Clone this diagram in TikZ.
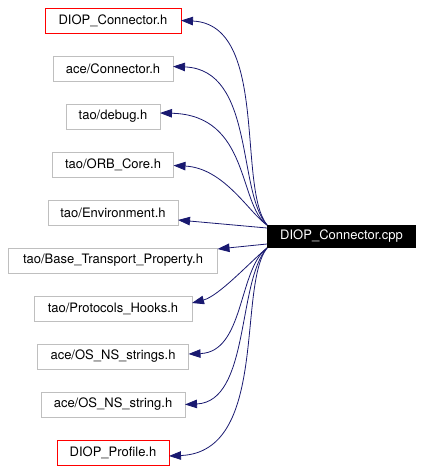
\documentclass[tikz,border=0pt]{standalone}
\usepackage{fontspec}
\setmainfont{TeX Gyre Heros}
\usetikzlibrary{arrows.meta,positioning}
\definecolor{EdgeNavy}{HTML}{191970}
\definecolor{BoxGray} {HTML}{BFBFBF}
\definecolor{BoxRed}  {HTML}{FF0000}

\begin{document}
\begin{tikzpicture}[x=1pt,y=1pt,
    hdr/.style={draw=BoxGray,line width=1pt,minimum height=25pt,inner sep=0pt,
                outer sep=0pt,font=\fontsize{13}{15}\selectfont},
    hdrown/.style={hdr,draw=BoxRed},
    srcfile/.style={fill=black,text=white,minimum height=23pt,minimum width=149pt,
                inner sep=0pt,outer sep=0pt,font=\fontsize{13}{15}\selectfont},
    dep/.style={draw=EdgeNavy,line width=0.8pt,-{Triangle[length=12pt,width=8.5pt]}},
    node distance=23pt]
  \useasboundingbox (0,0) rectangle (423,-471);

  % included headers
  \node[hdrown,minimum width=136pt] (dconn) at (113,-20.5) {DIOP\_Connector.h};
  \node[hdr,minimum width=120pt,below=of dconn] (aceconn) {ace/Connector.h};
  \node[hdr,minimum width=94pt,below=of aceconn] (debug) {tao/debug.h};
  \node[hdr,minimum width=121pt,below=of debug] (orbcore) {tao/ORB\_Core.h};
  \node[hdr,minimum width=130pt,below=of orbcore] (envir) {tao/Environment.h};
  \node[hdr,minimum width=209pt,below=of envir] (baseprop) {tao/Base\_Transport\_Property.h};
  \node[hdr,minimum width=158pt,below=of baseprop] (hooks) {tao/Protocols\_Hooks.h};
  \node[hdr,minimum width=151pt,below=of hooks] (strings) {ace/OS\_NS\_strings.h};
  \node[hdr,minimum width=144pt,below=of strings] (string) {ace/OS\_NS\_string.h};
  \node[hdrown,minimum width=112pt,below=of string] (dprof) {DIOP\_Profile.h};

  % the source file
  \node[srcfile] (cpp) at (341.5,-236.5) {DIOP\_Connector.cpp};

  % include edges
  \draw[dep] (cpp.north west) .. controls +(-30,38) and +(88,-4) .. (dconn.east);
  \draw[dep] (cpp.north west) .. controls +(-30,33) and +(82,-3) .. ([yshift=2pt]aceconn.east);
  \draw[dep] (cpp.north west) .. controls +(-29,21) and +(90,-2) .. ([yshift=3.5pt]debug.east);
  \draw[dep] (cpp.north west) .. controls +(-17,11) and +(51,-2.5) .. ([yshift=-1pt]orbcore.east);
  \draw[dep] ([yshift=8.5pt]cpp.west) -- ([yshift=-7.5pt]envir.east);
  \draw[dep] ([yshift=-7.5pt]cpp.west) -- ([yshift=11.5pt]baseprop.east);
  \draw[dep] (cpp.south west) .. controls +(-17,-14) and +(27,7) .. ([yshift=5.5pt]hooks.east);
  \draw[dep] (cpp.south west) .. controls +(-29,-22) and +(56,2) .. ([yshift=2.5pt]strings.east);
  \draw[dep] (cpp.south west) .. controls +(-30,-34) and +(65,3) .. (string.east);
  \draw[dep] (cpp.south west) .. controls +(-30,-39) and +(100,4) .. ([yshift=-3.5pt]dprof.east);
\end{tikzpicture}
\end{document}
